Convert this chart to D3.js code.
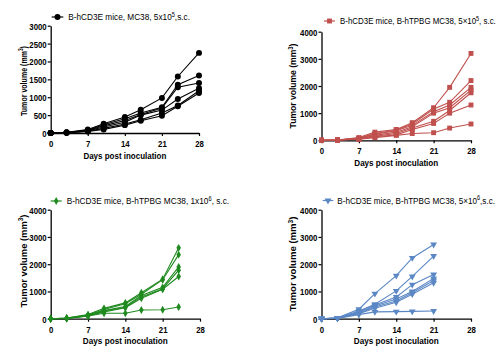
<!DOCTYPE html>
<html><head><meta charset="utf-8">
<script src="https://cdn.jsdelivr.net/npm/d3@7"></script>
<style>
body{margin:0;background:#fff}
text{font-family:"Liberation Sans",Arial,Helvetica,sans-serif}
</style>
</head><body>
<svg id="chart" width="499" height="353"></svg>
<script>
// ---------- data ----------
const xTicks = [0, 7, 14, 21, 28];
const yTicks3000 = [0, 500, 1000, 1500, 2000, 2500, 3000];
const yTicks4000 = [0, 1000, 2000, 3000, 4000];

const daysA = [0, 3, 7, 10, 14, 17, 21, 24, 28];
const seriesA = [
  [0, 20, 100, 260, 450, 650, 980, 1580, 2240],
  [0, 15, 80, 230, 400, 560, 720, 1350, 1610],
  [0, 15, 70, 200, 350, 520, 700, 1280, 1400],
  [0, 10, 60, 170, 300, 500, 640, 950, 1250],
  [0, 10, 50, 130, 250, 370, 560, 770, 1180],
  [0, 10, 40, 100, 220, 340, 480, 750, 1120]
];

const daysB = [0, 3, 7, 10, 14, 17, 21, 24, 28];
const seriesB = [
  [0, 10, 100, 300, 400, 650, 1200, 1950, 3200],
  [0, 10, 80, 250, 380, 600, 1150, 1400, 2200],
  [0, 10, 70, 220, 350, 550, 1050, 1300, 1950],
  [0, 10, 60, 180, 300, 500, 1000, 1200, 1850],
  [0, 10, 50, 150, 250, 450, 700, 1100, 1750],
  [0, 10, 50, 130, 200, 400, 620, 1000, 1300],
  [0, 10, 40, 100, 180, 250, 280, 450, 600]
];

const daysC = [0, 3, 7, 10, 14, 17, 21, 24];
const seriesC = [
  [0, 20, 150, 380, 580, 950, 1450, 2600],
  [0, 20, 130, 340, 550, 900, 1430, 2350],
  [0, 15, 120, 300, 450, 850, 1150, 1900],
  [0, 15, 110, 280, 420, 800, 1100, 1780],
  [0, 10, 100, 250, 400, 750, 1080, 1550],
  [0, 10, 100, 200, 200, 320, 330, 430]
];

const daysD = [0, 3, 7, 10, 14, 17, 21];
const seriesD = [
  [0, 30, 350, 920, 1580, 2230, 2720],
  [0, 25, 280, 530, 1020, 1550, 2300],
  [0, 20, 250, 500, 800, 1250, 1620],
  [0, 20, 220, 470, 720, 1000, 1480],
  [0, 15, 200, 430, 650, 950, 1400],
  [0, 15, 180, 380, 600, 900, 1320],
  [0, 10, 150, 250, 260, 270, 280]
];

const legendA = ["B-hCD3E mice, MC38, 5x10", "5", ",s.c."];
const legendB = ["B-hCD3E mice, B-hTPBG MC38, 5\u00d710", "5", ", s.c."];
const legendC = ["B-hCD3E mice, B-hTPBG MC38, 1x10", "6", ", s.c."];
const legendD = ["B-hCD3E mice, B-hTPBG MC38, 5\u00d710", "6", ",s.c."];

const xTitle = "Days post inoculation";
const yTitle = ["Tumor volume (mm", "3", ")"];

// ---------- layout ----------
const panels = [
  {days: daysA, series: seriesA, legend: legendA, yTicks: yTicks3000, yMax: 3000,
   color: "#000000", sym: "circle",
   x0: 50.7, x1: 199, yb: 133, yt: 25.7,
   legY: 17, legX0: 51.7, legX1: 63.3, legTX: 68.3, legW: 122,
   ytX: 26.5, ytY: 81, ytW: 70, xtW: 83},
  {days: daysB, series: seriesB, legend: legendB, yTicks: yTicks4000, yMax: 4000,
   color: "#c0504d", sym: "square",
   x0: 321.5, x1: 471, yb: 140.3, yt: 31.7,
   legY: 21, legX0: 324, legX1: 335, legTX: 340, legW: 156,
   ytX: 296, ytY: 86, ytW: 85, xtW: 84},
  {days: daysC, series: seriesC, legend: legendC, yTicks: yTicks4000, yMax: 4000,
   color: "#1f8a1f", sym: "star",
   x0: 50.7, x1: 200, yb: 318.7, yt: 209.7,
   legY: 201, legX0: 50.7, legX1: 61.7, legTX: 66.7, legW: 162.6,
   ytX: 26.5, ytY: 261, ytW: 93, xtW: 85},
  {days: daysD, series: seriesD, legend: legendD, yTicks: yTicks4000, yMax: 4000,
   color: "#5b87c5", sym: "tri",
   x0: 321.5, x1: 471, yb: 318.7, yt: 209.7,
   legY: 200.5, legX0: 322.7, legX1: 333.3, legTX: 337.3, legW: 158,
   ytX: 296, ytY: 264, ytW: 95, xtW: 85}
];

const svg = d3.select("#chart");

function symbolPath(kind) {
  if (kind === "circle") return d3.symbol(d3.symbolCircle, 28)();
  if (kind === "square") return d3.symbol(d3.symbolSquare, 24)();
  if (kind === "star") return d3.symbol(d3.symbolDiamond, 18)();
  return d3.symbol(d3.symbolTriangle, 20)();
}

function fit(textSel, target) {
  const w = textSel.node().getComputedTextLength();
  return target / w;
}

panels.forEach(p => {
  const x = d3.scaleLinear().domain([0, 28]).range([p.x0, p.x1]);
  const y = d3.scaleLinear().domain([0, p.yMax]).range([p.yb, p.yt]);
  const g = svg.append("g");

  // axes
  const ax = g.append("g").attr("transform", `translate(0,${p.yb})`)
    .call(d3.axisBottom(x).tickValues(xTicks).tickFormat(d3.format("d"))
      .tickSize(3).tickSizeOuter(0).tickPadding(2));
  const ay = g.append("g").attr("transform", `translate(${p.x0},0)`)
    .call(d3.axisLeft(y).tickValues(p.yTicks).tickFormat(d3.format("d"))
      .tickSize(3).tickSizeOuter(0).tickPadding(2));
  [ax, ay].forEach(a => {
    a.select(".domain").attr("stroke", "#000").attr("stroke-width", 1.3);
    a.selectAll(".tick line").attr("stroke", "#000").attr("stroke-width", 1.2);
    a.selectAll(".tick text").attr("fill", "#000")
      .style("font-size", "9.5px").style("font-weight", "bold");
  });
  ax.selectAll(".tick text").attr("transform", "scale(0.82,1)").attr("dy", "0.95em");
  ay.selectAll(".tick text").attr("transform", "scale(0.82,1)").attr("dy", "0.36em");

  // lines
  const sym = symbolPath(p.sym);
  const line = d3.line().x((d, i) => x(p.days[i])).y(d => y(d));
  p.series.forEach(s => {
    g.append("path").attr("d", line(s)).attr("fill", "none")
      .attr("stroke", p.color).attr("stroke-width", 1.1);
    g.selectAll(null).data(s).enter().append("path")
      .attr("d", sym)
      .attr("fill", p.color)
      .attr("transform", (d, i) => `translate(${x(p.days[i])},${y(d)})` + (p.sym === "tri" ? " rotate(180)" : ""));
  });

  // x title
  const xt = g.append("text").attr("text-anchor", "middle")
    .style("font-size", "9.5px").style("font-weight", "bold").text(xTitle);
  const sx = fit(xt, p.xtW);
  xt.attr("transform", `translate(${(p.x0 + p.x1) / 2},${p.yb + 25.5}) scale(${sx},1)`);

  // y title
  const yt = g.append("text").attr("text-anchor", "middle")
    .style("font-size", "9.5px").style("font-weight", "bold");
  yt.append("tspan").text(yTitle[0]);
  yt.append("tspan").text(yTitle[1]).style("font-size", "6.5px").attr("dy", "-3.5");
  yt.append("tspan").text(yTitle[2]).attr("dy", "3.5");
  const bb = yt.node().getBBox().width;
  yt.attr("transform", `translate(${p.ytX},${p.ytY}) rotate(-90) scale(${p.ytW / bb},1)`);

  // legend
  const lg = g.append("g");
  lg.append("line").attr("x1", p.legX0).attr("x2", p.legX1)
    .attr("y1", p.legY).attr("y2", p.legY)
    .attr("stroke", p.color).attr("stroke-width", 1.2);
  lg.append("path").attr("d", sym).attr("fill", p.color)
    .attr("transform", `translate(${(p.legX0 + p.legX1) / 2},${p.legY})` + (p.sym === "tri" ? " rotate(180)" : ""));
  const lt = lg.append("text").style("font-size", "9.5px").attr("fill", "#000");
  lt.append("tspan").text(p.legend[0]);
  lt.append("tspan").text(p.legend[1]).style("font-size", "6.5px").attr("dy", "-3.5");
  lt.append("tspan").text(p.legend[2]).attr("dy", "3.5");
  const lw = lt.node().getBBox().width;
  lt.attr("transform", `translate(${p.legTX},${p.legY + 3.3}) scale(${p.legW / lw},1)`);
});
</script>
</body></html>
